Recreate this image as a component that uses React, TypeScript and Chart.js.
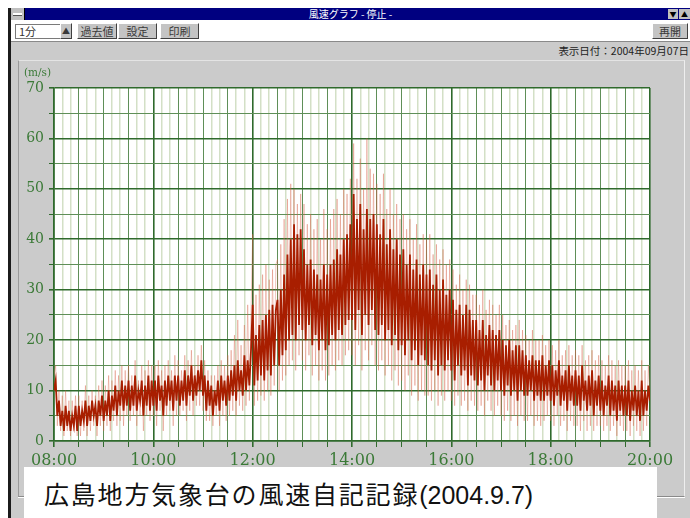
import React, { useEffect, useRef } from 'react';
import { Chart, registerables } from 'chart.js';

Chart.register(...registerables);

// minutes between samples (08:00 .. 20:00)
const STEP_MIN = 2;
const X_TICK_LABELS = ['08:00', '10:00', '12:00', '14:00', '16:00', '18:00', '20:00'];
const Y_TICK_LABELS = ['0', '10', '20', '30', '40', '50', '60', '70'];

// dark trace (m/s), one value every 2 minutes
const WIND_MAIN = [
  10, 12, 5, 8, 3, 6, 2, 7, 3, 6, 2, 5, 3, 7, 2,
  7, 3, 6, 4, 8, 3, 7, 4, 8, 5, 7, 3, 8, 5, 9,
  4, 8, 5, 10, 4, 9, 6, 11, 5, 10, 7, 12, 6, 11, 7,
  12, 6, 11, 7, 13, 6, 10, 8, 12, 5, 11, 7, 13, 6, 12,
  7, 12, 6, 13, 8, 11, 5, 12, 7, 13, 8, 12, 6, 13, 8,
  13, 7, 12, 8, 14, 7, 13, 9, 15, 8, 13, 9, 14, 10, 16,
  9, 13, 6, 12, 7, 11, 5, 10, 7, 12, 6, 13, 8, 12, 7,
  13, 8, 14, 9, 15, 8, 16, 10, 14, 9, 17, 10, 16, 11, 18,
  27, 11, 21, 12, 23, 13, 24, 12, 25, 14, 26, 13, 27, 15, 26,
  28, 15, 30, 17, 33, 18, 37, 20, 40, 21, 43, 20, 41, 23, 42,
  22, 38, 20, 35, 23, 36, 19, 34, 21, 33, 18, 32, 20, 35, 18,
  33, 19, 35, 21, 36, 20, 38, 22, 37, 21, 40, 23, 41, 24, 43,
  24, 49, 22, 44, 26, 47, 21, 42, 25, 46, 23, 44, 26, 45, 22,
  43, 21, 41, 23, 44, 20, 39, 22, 42, 19, 38, 21, 40, 18, 37,
  19, 38, 17, 35, 20, 37, 16, 34, 18, 36, 15, 33, 17, 35, 16,
  33, 15, 34, 14, 31, 16, 33, 13, 30, 15, 32, 14, 29, 16, 30,
  14, 28, 12, 26, 15, 27, 13, 25, 14, 27, 11, 26, 13, 24, 12,
  24, 11, 22, 12, 24, 10, 21, 13, 23, 11, 22, 10, 21, 12, 22,
  10, 20, 9, 19, 11, 20, 9, 18, 10, 19, 8, 19, 10, 18, 9,
  17, 9, 16, 10, 17, 8, 16, 9, 16, 8, 17, 8, 15, 9, 16,
  8, 15, 7, 14, 9, 16, 7, 13, 8, 14, 6, 15, 8, 13, 7,
  14, 7, 13, 6, 15, 8, 12, 6, 13, 7, 14, 5, 12, 7, 13,
  6, 12, 5, 11, 7, 13, 5, 12, 6, 11, 4, 12, 6, 11, 5,
  11, 5, 12, 4, 10, 6, 11, 5, 10, 4, 12, 5, 10, 6, 11,
  8,
];

// light trace (gust extremes, m/s), same timing
const WIND_GUST = [
  13, 15, 3, 10, 2, 9, 1, 10, 2, 8, 1, 8, 2, 9, 1,
  9, 1, 8, 2, 11, 1, 9, 2, 10, 3, 9, 1, 11, 3, 12,
  2, 11, 3, 13, 2, 12, 4, 14, 3, 13, 4, 15, 3, 14, 5,
  15, 4, 13, 5, 16, 3, 12, 5, 15, 2, 14, 5, 16, 4, 15,
  5, 15, 3, 16, 6, 14, 2, 15, 5, 16, 6, 14, 3, 17, 5,
  16, 5, 14, 6, 17, 4, 16, 6, 18, 5, 15, 7, 17, 7, 19,
  6, 16, 4, 14, 4, 13, 3, 13, 5, 15, 3, 16, 5, 15, 4,
  17, 5, 18, 6, 21, 5, 24, 7, 19, 6, 23, 7, 27, 8, 25,
  41, 7, 29, 8, 31, 9, 33, 8, 35, 10, 32, 9, 34, 11, 35,
  36, 10, 39, 12, 44, 13, 48, 15, 51, 16, 50, 14, 47, 17, 49,
  16, 47, 14, 43, 17, 45, 13, 42, 15, 44, 12, 40, 14, 46, 12,
  42, 13, 44, 15, 46, 14, 48, 16, 45, 15, 50, 17, 49, 18, 52,
  17, 59, 15, 52, 19, 56, 14, 50, 18, 60, 16, 54, 19, 53, 15,
  51, 14, 49, 16, 53, 13, 46, 15, 50, 12, 45, 14, 47, 11, 44,
  12, 45, 10, 42, 13, 44, 9, 40, 11, 43, 8, 39, 10, 41, 9,
  40, 9, 41, 8, 37, 10, 39, 7, 36, 9, 38, 8, 35, 10, 36,
  8, 34, 7, 31, 9, 33, 7, 30, 8, 32, 6, 31, 8, 29, 7,
  29, 6, 27, 7, 30, 5, 26, 8, 28, 6, 27, 5, 25, 7, 27,
  5, 25, 4, 23, 6, 24, 4, 22, 5, 23, 3, 24, 5, 22, 4,
  21, 4, 20, 5, 22, 3, 20, 4, 20, 3, 21, 4, 19, 5, 20,
  4, 19, 3, 18, 5, 20, 3, 17, 4, 18, 2, 19, 4, 17, 3,
  18, 3, 17, 2, 19, 4, 16, 2, 17, 3, 18, 2, 16, 3, 17,
  3, 16, 2, 15, 3, 17, 2, 16, 3, 15, 1, 16, 3, 15, 2,
  15, 2, 16, 1, 14, 3, 15, 2, 14, 1, 16, 2, 14, 3, 15,
  10,
];

const GREEN_MAJOR = '#2f6a2c';
const GREEN_MID = '#5f8f58';
const GREEN_LIGHT = '#d3e0c6';
const GREEN_TEXT = '#3b7a37';
const PANEL_GRAY = '#cbcbcb';

const whiteArea = {
  id: 'whiteArea',
  beforeDraw(chart: any) {
    const { ctx, chartArea: a } = chart;
    ctx.save();
    ctx.fillStyle = '#ffffff';
    ctx.fillRect(a.left, a.top, a.right - a.left, a.bottom - a.top);
    ctx.restore();
  },
};

function WindChart() {
  const ref = useRef<HTMLCanvasElement | null>(null);
  useEffect(() => {
    if (!ref.current) return;
    const chart = new Chart(ref.current, {
      type: 'line',
      data: {
        datasets: [
          {
            data: WIND_MAIN.map((v, i) => ({ x: i * STEP_MIN, y: v })),
            borderColor: '#a81e00',
            borderWidth: 1.8,
            pointRadius: 0,
            tension: 0,
          },
          {
            data: WIND_GUST.map((v, i) => ({ x: i * STEP_MIN, y: v })),
            borderColor: 'rgba(212,96,70,0.4)',
            borderWidth: 0.9,
            pointRadius: 0,
            tension: 0,
          },
        ],
      },
      options: {
        animation: false,
        responsive: false,
        maintainAspectRatio: false,
        layout: { padding: { top: 28, right: 40, left: 0, bottom: 0 } },
        plugins: { legend: { display: false }, tooltip: { enabled: false } },
        scales: {
          x: {
            type: 'linear',
            min: 0,
            max: 720,
            afterFit: (s: any) => { s.height = 39; },
            border: { display: true, color: GREEN_MAJOR, width: 1.6 },
            grid: {
              color: (c: any) => {
                const v = c.tick ? c.tick.value : 0;
                if (v % 120 === 0) return GREEN_MAJOR;
                if (v % 30 === 0) return GREEN_MID;
                return GREEN_LIGHT;
              },
              lineWidth: (c: any) => {
                const v = c.tick ? c.tick.value : 0;
                if (v % 120 === 0) return 1.6;
                if (v % 30 === 0) return 1;
                return 1.5;
              },
              tickColor: (c: any) => {
                const v = c.tick ? c.tick.value : 0;
                return v % 30 === 0 ? GREEN_MAJOR : 'rgba(0,0,0,0)';
              },
              tickLength: 6,
            },
            ticks: {
              stepSize: 10,
              autoSkip: false,
              maxRotation: 0,
              padding: 4,
              color: GREEN_TEXT,
              font: { family: 'DejaVu Serif', size: 16 },
              callback: (v: any) => (Number(v) % 120 === 0 ? X_TICK_LABELS[Number(v) / 120] : ''),
            },
          },
          y: {
            min: 0,
            max: 70,
            afterFit: (s: any) => { s.width = 54; },
            border: { display: true, color: GREEN_MAJOR, width: 1.6 },
            grid: {
              color: (c: any) => {
                const v = c.tick ? c.tick.value : 0;
                return v % 10 === 0 ? GREEN_MAJOR : GREEN_MID;
              },
              lineWidth: (c: any) => {
                const v = c.tick ? c.tick.value : 0;
                return v % 10 === 0 ? 1.6 : 1;
              },
              tickColor: GREEN_MAJOR,
              tickLength: 5,
            },
            ticks: {
              stepSize: 5,
              autoSkip: false,
              padding: 5,
              color: GREEN_TEXT,
              font: { family: 'DejaVu Serif', size: 14 },
              callback: (v: any) => (Number(v) % 10 === 0 ? Y_TICK_LABELS[Number(v) / 10] : ''),
            },
          },
        },
      },
      plugins: [whiteArea],
    } as any);
    return () => chart.destroy();
  }, []);
  return <canvas ref={ref} width={690} height={420} style={{ width: 690, height: 420, display: 'block' }} />;
}

const btn: React.CSSProperties = {
  position: 'absolute',
  top: 23,
  height: 14,
  background: '#c4c4c4',
  borderStyle: 'solid',
  borderWidth: 1,
  borderColor: '#ffffff #404040 #404040 #ffffff',
  fontSize: 11,
  lineHeight: '14px',
  textAlign: 'center',
  color: '#3a3a3a',
  fontFamily: 'Noto Sans CJK JP',
};

export default function App() {
  return (
    <div
      style={{
        position: 'fixed',
        left: 0,
        top: 0,
        width: 690,
        height: 518,
        background: '#ffffff',
        overflow: 'hidden',
        fontFamily: 'Noto Sans CJK JP',
      }}
    >
      {/* window left border */}
      <div style={{ position: 'absolute', left: 8, top: 8, width: 3, height: 510, background: '#1b1b1b' }} />
      {/* title bar */}
      <div
        style={{
          position: 'absolute',
          left: 11,
          top: 8,
          width: 679,
          height: 12,
          background: '#000080',
          color: '#ffffff',
          fontSize: 10,
          lineHeight: '12px',
          textAlign: 'center',
        }}
      >
        風速グラフ - 停止 -
      </div>
      <div style={{ position: 'absolute', left: 11, top: 8, width: 13, height: 12, background: '#c0c0c0', borderRight: '1px solid #000' }}>
        <div style={{ position: 'absolute', left: 2, top: 5, width: 9, height: 2, background: '#fff', boxShadow: '0 1px 0 #555' }} />
      </div>
      <div style={{ position: 'absolute', left: 668, top: 9, width: 10, height: 10, background: '#c0c0c0', fontSize: 7, lineHeight: '10px', textAlign: 'center', color: '#000' }}>▼</div>
      <div style={{ position: 'absolute', left: 679, top: 9, width: 11, height: 10, background: '#c0c0c0', fontSize: 7, lineHeight: '10px', textAlign: 'center', color: '#000' }}>▲</div>
      {/* toolbar */}
      <div style={{ position: 'absolute', left: 11, top: 20, width: 679, height: 21, background: '#ffffff', borderBottom: '1px solid #8a8a8a' }} />
      <div
        style={{
          position: 'absolute',
          left: 15,
          top: 24,
          width: 44,
          height: 13,
          background: '#fff',
          border: '1px solid #7a7a7a',
          fontSize: 11,
          lineHeight: '13px',
          paddingLeft: 3,
          color: '#333',
        }}
      >
        1分
      </div>
      <div style={{ ...btn, left: 60, width: 10, fontSize: 8 }}>▲</div>
      <div style={{ ...btn, left: 77, width: 38 }}>過去値</div>
      <div style={{ ...btn, left: 118, width: 37 }}>設定</div>
      <div style={{ ...btn, left: 160, width: 37 }}>印刷</div>
      <div style={{ ...btn, left: 652, width: 34 }}>再開</div>
      {/* gray client area */}
      <div style={{ position: 'absolute', left: 11, top: 42, width: 679, height: 476, background: PANEL_GRAY }} />
      <div
        style={{
          position: 'absolute',
          right: 1,
          top: 44,
          fontSize: 10.5,
          lineHeight: '14px',
          color: '#222',
          whiteSpace: 'nowrap',
        }}
      >
        表示日付：2004年09月07日
      </div>
      {/* chart panel */}
      <div
        style={{
          position: 'absolute',
          left: 18,
          top: 60,
          width: 665,
          height: 435,
          borderTop: '1px solid #e4e4e4',
          borderLeft: '1px solid #9a9a9a',
          borderRight: '1px solid #eeeeee',
          borderBottom: '1px solid #8a8a8a',
          boxShadow: '0 1px 0 #ffffff',
        }}
      />
      <div style={{ position: 'absolute', left: 0, top: 60 }}>
        <WindChart />
      </div>
      <div
        style={{
          position: 'absolute',
          left: 24,
          top: 66,
          fontFamily: 'DejaVu Serif',
          fontSize: 10.5,
          color: GREEN_TEXT,
          whiteSpace: 'nowrap',
        }}
      >
        (m/s)
      </div>
      {/* caption */}
      <div
        style={{
          position: 'absolute',
          left: 24,
          top: 467,
          width: 633,
          height: 51,
          background: '#ffffff',
          color: '#111',
          whiteSpace: 'nowrap',
        }}
      >
        <div style={{ position: 'absolute', left: 20, top: 9, lineHeight: '34px', fontSize: 25 }}>
          <span style={{ fontFamily: 'Noto Sans CJK JP', letterSpacing: 1.8 }}>広島地方気象台の風速自記記録</span>
          <span style={{ fontFamily: 'Liberation Sans' }}>(2004.9.7)</span>
        </div>
      </div>
    </div>
  );
}
